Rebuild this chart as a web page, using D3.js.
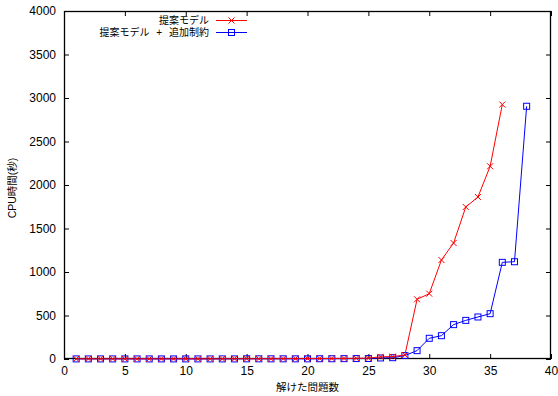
<!DOCTYPE html>
<html>
<head>
<meta charset="utf-8">
<script src="https://cdn.jsdelivr.net/npm/d3@7"></script>
<style>
  html, body { margin: 0; padding: 0; background: #fff; }
  svg { display: block; }
  text { font-family: "Liberation Sans", Arial, "Noto Sans CJK JP", sans-serif; fill: #000; }
</style>
</head>
<body>
<script>
// Solved problem counts (x) and cumulative CPU time in seconds (y)
const seriesNames = ["提案モデル", "提案モデル + 追加制約"];
const proposedX = d3.range(1, 37);
const proposedY = [2, 2, 2, 2, 2, 2, 2, 2, 2, 2, 2, 2, 2, 3, 3, 3, 3, 4, 4, 5,
                   5, 6, 7, 8, 10, 25, 28, 46, 686, 751, 1138, 1333, 1747, 1862, 2215, 2925];
const constrainedX = d3.range(1, 39);
const constrainedY = [1, 1, 1, 1, 1, 1, 1, 1, 1, 1, 1, 1, 1, 1, 2, 2, 2, 2, 2, 2,
                      3, 3, 4, 5, 6, 12, 15, 40, 96, 238, 268, 395, 444, 483, 521, 1111, 1118, 2905];
const xTicks = [0, 5, 10, 15, 20, 25, 30, 35, 40];
const yTicks = [0, 500, 1000, 1500, 2000, 2500, 3000, 3500, 4000];
const xLabel = "解けた問題数";
const yLabel = "CPU時間(秒)";

const W = 558, H = 396;
const plotLeft = 64, plotRight = 551, plotTop = 11, plotBottom = 359;

const svg = d3.select("body").append("svg").attr("width", W).attr("height", H);

const x = d3.scaleLinear().domain([0, 40]).range([plotLeft, plotRight]);
const y = d3.scaleLinear().domain([0, 4000]).range([plotBottom, plotTop]);

const tickLen = 5;
const fmt = d3.format("d");

// Axes with inward ticks, mirrored on top and right
const axisGroup = svg.append("g");
function styleAxis(g) {
  g.select(".domain").remove();
  g.selectAll(".tick line").attr("stroke", "#000").attr("stroke-width", 1);
  g.selectAll(".tick text").attr("font-size", 12).attr("fill", "#222")
    .attr("font-family", "Liberation Sans, Arial, sans-serif");
}
axisGroup.append("g")
  .attr("transform", `translate(0,${plotBottom})`)
  .call(d3.axisBottom(x).tickValues(xTicks).tickSizeInner(-tickLen).tickSizeOuter(0).tickPadding(7).tickFormat(fmt))
  .call(styleAxis);
axisGroup.append("g")
  .attr("transform", `translate(0,${plotTop})`)
  .call(d3.axisTop(x).tickValues(xTicks).tickSizeInner(-tickLen).tickSizeOuter(0).tickFormat(""))
  .call(styleAxis);
axisGroup.append("g")
  .attr("transform", `translate(${plotLeft},0)`)
  .call(d3.axisLeft(y).tickValues(yTicks).tickSizeInner(-tickLen).tickSizeOuter(0).tickPadding(8).tickFormat(fmt))
  .call(styleAxis);
axisGroup.append("g")
  .attr("transform", `translate(${plotRight},0)`)
  .call(d3.axisRight(y).tickValues(yTicks).tickSizeInner(-tickLen).tickSizeOuter(0).tickFormat(""))
  .call(styleAxis);

// Plot border
svg.append("rect")
  .attr("x", plotLeft + 0.5).attr("y", plotTop + 0.5)
  .attr("width", plotRight - plotLeft - 1).attr("height", plotBottom - plotTop - 1)
  .attr("fill", "none").attr("stroke", "#000").attr("stroke-width", 1.3);

// Axis titles
svg.append("text")
  .attr("x", (plotLeft + plotRight) / 2).attr("y", 391)
  .attr("text-anchor", "middle").attr("font-size", 10.5).attr("fill", "#222")
  .text(xLabel);
svg.append("text")
  .attr("transform", `translate(16,${(plotTop + plotBottom) / 2 + 3}) rotate(-90)`)
  .attr("text-anchor", "middle").attr("font-size", 10.5).attr("fill", "#222")
  .text(yLabel);

const line = d3.line().x(d => x(d[0])).y(d => y(d[1]));

const series = [
  { name: seriesNames[0], data: d3.zip(proposedX, proposedY), color: "#ff0000", marker: "cross" },
  { name: seriesNames[1], data: d3.zip(constrainedX, constrainedY), color: "#0000ff", marker: "square" }
];

const plot = svg.append("g");

function drawMarker(g, type, cx, cy, color) {
  const s = 3;
  if (type === "cross") {
    g.append("path")
      .attr("d", `M${cx - s},${cy - s}L${cx + s},${cy + s}M${cx - s},${cy + s}L${cx + s},${cy - s}`)
      .attr("stroke", color).attr("stroke-width", 1).attr("fill", "none");
  } else {
    g.append("rect")
      .attr("x", cx - s).attr("y", cy - s).attr("width", 2 * s).attr("height", 2 * s)
      .attr("stroke", color).attr("stroke-width", 1).attr("fill", "none");
  }
}

// Blue series underneath, red series on top
[series[1], series[0]].forEach(s => {
  plot.append("path").datum(s.data)
    .attr("d", line).attr("fill", "none")
    .attr("stroke", s.color).attr("stroke-width", 1);
  const mg = plot.append("g");
  s.data.forEach(d => drawMarker(mg, s.marker, x(d[0]), y(d[1]), s.color));
});

// Legend
const legend = svg.append("g");
series.forEach((s, i) => {
  const ly = 20.5 + i * 12;
  legend.append("text")
    .attr("x", 209).attr("y", ly).attr("dy", "0.35em")
    .attr("text-anchor", "end").attr("font-size", 10).attr("fill", "#222")
    .style("word-spacing", "4px")
    .text(s.name);
  legend.append("line")
    .attr("x1", 216).attr("x2", 247).attr("y1", ly).attr("y2", ly)
    .attr("stroke", s.color).attr("stroke-width", 1);
  drawMarker(legend, s.marker, 231.5, ly, s.color);
});
</script>
</body>
</html>
